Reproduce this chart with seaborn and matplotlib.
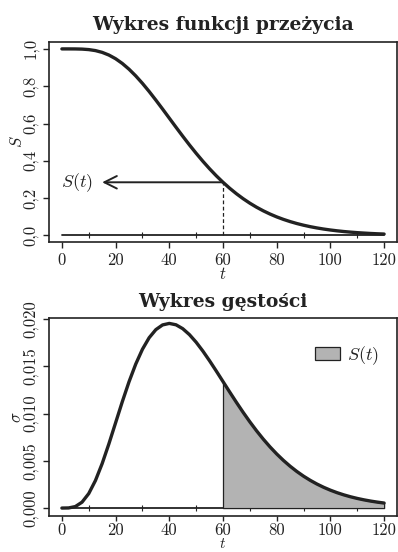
import matplotlib
matplotlib.use("Agg")
import matplotlib.pyplot as plt
import seaborn as sns
import pandas as pd
from matplotlib.patches import Patch

# ---- data ----
t = [0, 2.5, 5, 7.5, 10, 12.5, 15, 17.5, 20, 22.5, 25, 27.5, 30, 32.5,
     35, 37.5, 40, 42.5, 45, 47.5, 50, 52.5, 55, 57.5, 60, 62.5, 65,
     67.5, 70, 72.5, 75, 77.5, 80, 82.5, 85, 87.5, 90, 92.5, 95, 97.5,
     100, 102.5, 105, 107.5, 110, 112.5, 115, 117.5, 120]
S = [1.0000, 1.0000, 0.9998, 0.9989, 0.9963, 0.9909, 0.9814, 0.9671,
     0.9474, 0.9220, 0.8912, 0.8554, 0.8153, 0.7717, 0.7254, 0.6776,
     0.6288, 0.5801, 0.5321, 0.4854, 0.4405, 0.3978, 0.3575, 0.3199,
     0.2851, 0.2530, 0.2237, 0.1971, 0.1730, 0.1514, 0.1321, 0.1149,
     0.0996, 0.0862, 0.0744, 0.0640, 0.0550, 0.0471, 0.0403, 0.0344,
     0.0293, 0.0249, 0.0211, 0.0179, 0.0151, 0.0128, 0.0107, 0.0090, 0.0076]
dens = [0.0, 0.000013, 0.000158, 0.000623, 0.001533, 0.002915, 0.004707,
        0.006791, 0.009022, 0.011255, 0.013360, 0.015234, 0.016803,
        0.018024, 0.018881, 0.019378, 0.019537, 0.019391, 0.018981,
        0.018351, 0.017547, 0.016610, 0.015582, 0.014497, 0.013385,
        0.012274, 0.011182, 0.010128, 0.009123, 0.008175, 0.007292,
        0.006475, 0.005725, 0.005043, 0.004426, 0.003870, 0.003374,
        0.002932, 0.002540, 0.002195, 0.001892, 0.001626, 0.001395,
        0.001193, 0.001019, 0.000868, 0.000738, 0.000627, 0.000531]
t_mark = 60
arrow_tip_t = 15
zero_ticks = [10, 30, 50, 70, 90, 110]
x_ticks = [0, 20, 40, 60, 80, 100, 120]
yS_ticks = [0.0, 0.2, 0.4, 0.6, 0.8, 1.0]
yS_labels = ["0,0", "0,2", "0,4", "0,6", "0,8", "1,0"]
yd_ticks = [0.000, 0.005, 0.010, 0.015, 0.020]
yd_labels = ["0,000", "0,005", "0,010", "0,015", "0,020"]
title_top = "Wykres funkcji przeżycia"
title_bot = "Wykres gęstości"

df = pd.DataFrame({"t": t, "S": S, "dens": dens})

sns.set_theme(style="white")
plt.rcParams.update({
    "mathtext.fontset": "cm",
    "font.family": ["cmr10", "DejaVu Serif"],
    "axes.formatter.use_mathtext": True,
    "axes.unicode_minus": False,
    "axes.edgecolor": "#222222",
    "axes.linewidth": 1.2,
})

INK = "#222222"
FILL = "#b3b3b3"
fig = plt.figure(figsize=(3.98, 5.52), dpi=100)
ax1 = fig.add_axes([49/398, 1-242/552, 348/398, 200/552])
ax2 = fig.add_axes([49/398, 1-516/552, 348/398, 198/552])

def style_axis(ax, yt, yl, xpad, xlen):
    ax.set_xlim(-4.8, 124.8)
    ax.set_xticks(x_ticks)
    ax.set_xticklabels([str(v) for v in x_ticks])
    ax.set_yticks(yt)
    ax.set_yticklabels(yl, rotation=90, va="center")
    ax.tick_params(axis="both", direction="out", length=4.5, width=1.0,
                   color=INK, labelsize=12, labelcolor=INK,
                   bottom=True, left=True)
    ax.tick_params(axis="x", pad=xpad, length=xlen)
    ax.tick_params(axis="y", pad=3)
    for s in ax.spines.values():
        s.set_visible(True)
        s.set_color(INK)

title_font = dict(fontsize=13.5, family=["DejaVu Serif"], fontweight="bold",
                  color=INK)

# ---- top: survival ----
ax1.axhline(0, xmin=(0+4.8)/129.6, xmax=(120+4.8)/129.6, color=INK, lw=1.3, zorder=1)
ax1.plot(zero_ticks, [0]*len(zero_ticks), ls="none", marker="|", ms=4, mew=0.8, color=INK)
sns.lineplot(data=df, x="t", y="S", ax=ax1, color=INK, lw=2.4, zorder=3)
s_mark = S[t.index(t_mark)]
ax1.plot([t_mark, t_mark], [0, s_mark], ls=(0, (3, 2)), lw=0.9, color=INK)
ax1.annotate("", xy=(arrow_tip_t, s_mark), xytext=(t_mark, s_mark),
             arrowprops=dict(arrowstyle="->,head_length=0.9,head_width=0.45",
                             mutation_scale=10, color=INK, lw=1.4,
                             shrinkA=0, shrinkB=0))
ax1.text(5.6, s_mark, "$S(t)$", fontsize=13, ha="center", va="center", color=INK)
ax1.set_ylim(-0.035, 1.037)
style_axis(ax1, yS_ticks, yS_labels, xpad=3, xlen=4.5)
ax1.set_xlabel("$t$", fontsize=12, labelpad=-1, color=INK)
ax1.set_ylabel("$S$", fontsize=12, labelpad=-1, color=INK)
ax1.set_title(title_top, pad=9, **title_font)

# ---- bottom: density ----
ax2.axhline(0, xmin=(0+4.8)/129.6, xmax=(120+4.8)/129.6, color=INK, lw=1.3, zorder=1)
ax2.plot(zero_ticks, [0]*len(zero_ticks), ls="none", marker="|", ms=4, mew=0.8, color=INK)
tail = df[df["t"] >= t_mark]
ax2.fill_between(tail["t"], 0, tail["dens"], facecolor=FILL,
                 edgecolor=INK, lw=0.9, zorder=2)
sns.lineplot(data=df, x="t", y="dens", ax=ax2, color=INK, lw=2.4, zorder=3)
ax2.set_ylim(-0.00084, 0.02011)
style_axis(ax2, yd_ticks, yd_labels, xpad=1.5, xlen=3.5)
ax2.set_xlabel("$t$", fontsize=11, color=INK)
ax2.xaxis.label.set_va("bottom")
ax2.xaxis.set_label_coords(0.5, -0.178)
ax2.set_ylabel("$\\sigma$", fontsize=12, labelpad=-1, color=INK)
ax2.set_title(title_bot, pad=8, **title_font)
leg = ax2.legend(handles=[Patch(facecolor=FILL, edgecolor=INK, lw=0.9,
                                label="$S(t)$")],
                 loc="upper right", bbox_to_anchor=(1.0, 0.96),
                 frameon=False, fontsize=13,
                 handlelength=1.4, handleheight=0.8, handletextpad=0.4,
                 borderaxespad=0.6)
for txt in leg.get_texts():
    txt.set_color(INK)

fig.savefig("out.png", dpi=100)
